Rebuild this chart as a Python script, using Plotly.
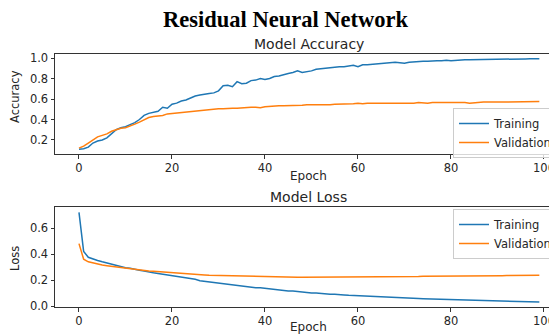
import plotly.graph_objects as go

epochs = list(range(100))

train_acc = [0.11, 0.115, 0.13, 0.17, 0.19, 0.20, 0.22, 0.26, 0.30, 0.32,
             0.33, 0.35, 0.37, 0.40, 0.44, 0.46, 0.47, 0.48, 0.52, 0.51,
             0.55, 0.56, 0.58, 0.59, 0.61, 0.63, 0.64, 0.65, 0.655, 0.66,
             0.68, 0.73, 0.735, 0.72, 0.77, 0.75, 0.755, 0.78, 0.785, 0.80,
             0.79, 0.80, 0.82, 0.825, 0.84, 0.85, 0.86, 0.875, 0.86, 0.865,
             0.875, 0.89, 0.895, 0.90, 0.91, 0.91, 0.915, 0.915, 0.92, 0.93,
             0.915, 0.935, 0.935, 0.94, 0.945, 0.945, 0.95, 0.955, 0.96, 0.955,
             0.95, 0.96, 0.965, 0.965, 0.97, 0.97, 0.975, 0.975, 0.975, 0.98,
             0.975, 0.98, 0.98, 0.983, 0.985, 0.985, 0.985, 0.987, 0.988, 0.99,
             0.99, 0.99, 0.992, 0.99, 0.985, 0.99, 0.992, 0.993, 0.99, 0.993]

val_acc = [0.12, 0.14, 0.17, 0.20, 0.23, 0.245, 0.26, 0.285, 0.30, 0.315,
           0.32, 0.335, 0.355, 0.375, 0.40, 0.42, 0.43, 0.435, 0.44, 0.455,
           0.46, 0.465, 0.465, 0.47, 0.475, 0.485, 0.49, 0.49, 0.495, 0.50,
           0.505, 0.505, 0.51, 0.51, 0.51, 0.515, 0.515, 0.52, 0.52, 0.515,
           0.525, 0.53, 0.53, 0.535, 0.535, 0.535, 0.54, 0.54, 0.54, 0.545,
           0.545, 0.54, 0.54, 0.545, 0.545, 0.55, 0.55, 0.555, 0.55, 0.555,
           0.56, 0.555, 0.56, 0.56, 0.555, 0.56, 0.56, 0.56, 0.555, 0.56,
           0.56, 0.56, 0.56, 0.565, 0.56, 0.56, 0.565, 0.565, 0.565, 0.57,
           0.57, 0.565, 0.565, 0.565, 0.56, 0.565, 0.565, 0.57, 0.57, 0.57,
           0.57, 0.575, 0.575, 0.575, 0.57, 0.57, 0.57, 0.575, 0.575, 0.575]

train_loss = [0.72, 0.42, 0.375, 0.36, 0.35, 0.34, 0.33, 0.32, 0.31, 0.30,
              0.295, 0.29, 0.28, 0.275, 0.27, 0.26, 0.255, 0.25, 0.245, 0.24,
              0.23, 0.225, 0.22, 0.215, 0.21, 0.205, 0.195, 0.19, 0.19, 0.185,
              0.175, 0.17, 0.165, 0.16, 0.16, 0.155, 0.15, 0.145, 0.14, 0.14,
              0.135, 0.13, 0.13, 0.125, 0.12, 0.115, 0.115, 0.11, 0.105, 0.105,
              0.10, 0.10, 0.095, 0.095, 0.09, 0.09, 0.085, 0.085, 0.082, 0.08,
              0.08, 0.077, 0.075, 0.073, 0.072, 0.07, 0.068, 0.066, 0.065, 0.063,
              0.062, 0.06, 0.058, 0.057, 0.056, 0.055, 0.054, 0.053, 0.052, 0.051,
              0.05, 0.049, 0.047, 0.046, 0.045, 0.044, 0.043, 0.042, 0.041, 0.04,
              0.039, 0.038, 0.037, 0.036, 0.035, 0.034, 0.033, 0.032, 0.031, 0.03]

val_loss = [0.48, 0.36, 0.34, 0.33, 0.32, 0.315, 0.31, 0.305, 0.30, 0.295,
            0.29, 0.285, 0.28, 0.277, 0.273, 0.27, 0.267, 0.264, 0.261, 0.258,
            0.255, 0.252, 0.25, 0.247, 0.245, 0.243, 0.241, 0.239, 0.237, 0.236,
            0.234, 0.233, 0.232, 0.231, 0.23, 0.229, 0.228, 0.227, 0.226, 0.226,
            0.225, 0.225, 0.224, 0.224, 0.223, 0.223, 0.223, 0.222, 0.222, 0.222,
            0.222, 0.222, 0.222, 0.222, 0.222, 0.222, 0.222, 0.223, 0.223, 0.223,
            0.223, 0.224, 0.224, 0.224, 0.225, 0.225, 0.225, 0.225, 0.226, 0.226,
            0.226, 0.227, 0.227, 0.227, 0.228, 0.228, 0.228, 0.229, 0.229, 0.229,
            0.23, 0.23, 0.23, 0.231, 0.231, 0.231, 0.232, 0.232, 0.232, 0.233,
            0.233, 0.233, 0.234, 0.234, 0.234, 0.235, 0.235, 0.235, 0.236, 0.236]

x_ticks = [0, 20, 40, 60, 80, 100]
acc_ticks = [0.2, 0.4, 0.6, 0.8, 1.0]
loss_ticks = [0.0, 0.2, 0.4, 0.6]

BLUE = "#1f77b4"
ORANGE = "#ff7f0e"
OFF = 8  # page body margin
W, H = 557 - OFF, 334 - OFF
FONT = "DejaVu Sans"
TXT = "#262626"


def px_(x):
    return (x - OFF) / W


def py(y):
    return 1 - (y - OFF) / H


fig = go.Figure()
fig.add_trace(go.Scatter(x=epochs, y=train_acc, mode="lines", name="Training",
                         line=dict(color=BLUE, width=1.5), xaxis="x", yaxis="y", legend="legend"))
fig.add_trace(go.Scatter(x=epochs, y=val_acc, mode="lines", name="Validation",
                         line=dict(color=ORANGE, width=1.5), xaxis="x", yaxis="y", legend="legend"))
fig.add_trace(go.Scatter(x=epochs, y=train_loss, mode="lines", name="Training",
                         line=dict(color=BLUE, width=1.5), xaxis="x2", yaxis="y2", legend="legend2"))
fig.add_trace(go.Scatter(x=epochs, y=val_loss, mode="lines", name="Validation",
                         line=dict(color=ORANGE, width=1.5), xaxis="x2", yaxis="y2", legend="legend2"))

axis_common = dict(showgrid=False, zeroline=False, showline=True, linecolor="#333333", linewidth=1,
                   ticks="outside", ticklen=3.5, tickwidth=1, tickcolor="#333333", automargin=False,
                   tickfont=dict(family=FONT, size=11.5, color=TXT))

x_range = [-5.16, 102.8]
x_domain = [px_(55), 1.0]

legend_common = dict(x=1.0, xanchor="right", yanchor="top",
                     bgcolor="rgba(255,255,255,0.8)", bordercolor="#cccccc", borderwidth=1,
                     font=dict(family=FONT, size=11.5, color=TXT), itemwidth=30,
                     tracegroupgap=0)

fig.update_layout(
    width=W, height=H,
    margin=dict(l=0, r=0, t=0, b=0, autoexpand=False),
    paper_bgcolor="white", plot_bgcolor="white",
    xaxis=dict(domain=x_domain, range=x_range, anchor="y", tickvals=x_ticks,
               mirror=True, **axis_common),
    yaxis=dict(domain=[py(154), py(54)], range=[0.063, 1.04], anchor="x",
               tickvals=acc_ticks, tickformat=".1f", mirror=False, **axis_common),
    xaxis2=dict(domain=x_domain, range=x_range, anchor="y2", tickvals=x_ticks,
                mirror=True, **axis_common),
    yaxis2=dict(domain=[py(307), py(207)], range=[-0.0077, 0.7615], anchor="x2",
                tickvals=loss_ticks, tickformat=".1f", mirror=False, **axis_common),
    legend=dict(y=py(108), **legend_common),
    legend2=dict(y=py(209), **legend_common),
    showlegend=True,
)

cx = px_((55 + 562) / 2)
annots = [
    dict(text="<b>Residual Neural Network</b>", x=px_(285), y=py(19.5),
         font=dict(family="Liberation Serif", size=22.5, color="black")),
    dict(text="Model Accuracy", x=cx, y=py(44), font=dict(family=FONT, size=14, color=TXT)),
    dict(text="Model Loss", x=cx, y=py(197), font=dict(family=FONT, size=14, color=TXT)),
    dict(text="Epoch", x=cx, y=py(176), font=dict(family=FONT, size=12, color=TXT)),
    dict(text="Epoch", x=cx, y=py(327), font=dict(family=FONT, size=12, color=TXT)),
    dict(text="Accuracy", x=px_(15), y=py(97), textangle=-90, font=dict(family=FONT, size=11.5, color=TXT)),
    dict(text="Loss", x=px_(15), y=py(259), textangle=-90, font=dict(family=FONT, size=11.5, color=TXT)),
]
for a in annots:
    a.update(xref="paper", yref="paper", showarrow=False, xanchor="center", yanchor="middle")
    fig.add_annotation(**a)

fig.write_html("out.html")
